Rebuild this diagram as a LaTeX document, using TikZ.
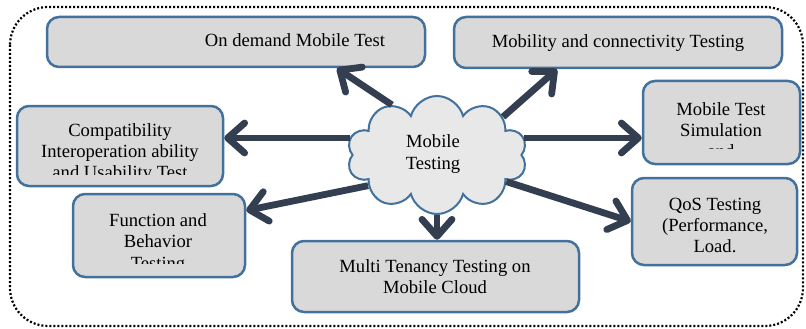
\documentclass[tikz,border=0pt]{standalone}
\usepackage{fontspec}
\setmainfont{Liberation Serif}
\usetikzlibrary{shapes,arrows.meta,positioning}
\definecolor{boxblue}{RGB}{65,113,156}
\definecolor{boxgray}{RGB}{217,217,217}
\definecolor{cloudgray}{RGB}{232,232,232}
\definecolor{arrownavy}{RGB}{51,63,80}

\begin{document}
\begin{tikzpicture}[x=1pt, y=-1pt,
  box/.style={draw=boxblue, fill=boxgray, line width=2.5pt, rounded corners=12pt, inner sep=0pt},
  txt/.style={align=center, inner sep=0pt, font=\rmfamily\fontsize{18.6}{21.3}\selectfont},
  arr/.style={draw=arrownavy, line width=6.8pt, -{Straight Barb[length=17pt, width=30pt, line cap=round, line join=round]}}]
\useasboundingbox (0,0) rectangle (806,329);

% Outer dotted frame
\draw[line width=2.2pt, dash pattern=on 2pt off 2pt, rounded corners=38pt] (10,7) rectangle (803,326);

% Top row
\node[box, minimum width=378pt, minimum height=50pt] (od) at (236,42) {};
\node[txt] (odtext) at (295,40) {On demand Mobile Test};
\node[box, minimum width=328pt, minimum height=51pt] (mob) at (618,42.5) {};
\node[txt] (mobtext) at (618,43.5) {Mobility and connectivity Testing};

% Left side
\node[box, minimum width=206pt, minimum height=80pt] (compat) at (120,146) {};
\begin{scope}
\clip (16,105) rectangle (224,174);
\node[txt] (compattext) at (120,153) {Compatibility\\Interoperation ability\\and Usability Test};
\end{scope}
\node[box, minimum width=172pt, minimum height=83pt] (func) at (159,235.5) {};
\begin{scope}
\clip (72,193) rectangle (246,263);
\node[txt] (functext) at (158,243.5) {Function and\\Behavior\\Testing};
\end{scope}

% Right side
\node[box, minimum width=157pt, minimum height=83pt] (sim) at (721.5,122.5) {};
\begin{scope}
\clip (642,80) rectangle (801,148.5);
\node[txt] (simtext) at (721,130) {Mobile Test\\Simulation\\and};
\end{scope}
\node[box, minimum width=165pt, minimum height=87pt] (qos) at (714.5,221.5) {};
\node[txt] (qostext) at (715,225.5) {QoS Testing\\(Performance,\\Load.};

% Bottom
\node[box, minimum width=287pt, minimum height=71pt] (multi) at (435.5,276.5) {};
\node[txt] (multitext) at (435,276.5) {Multi Tenancy Testing on\\Mobile Cloud};

% Central cloud
\node[cloud, cloud puffs=10, cloud ignores aspect, draw=boxblue, fill=cloudgray, line width=2pt,
  minimum width=180pt, minimum height=118pt, txt] (cloud) at (437,155) {};
\node[txt] (cloudtext) at (433,154) {Mobile\\Testing};

% Arrows
\draw[arr] (cloud.132) -- ([xshift=101pt]od.south);
\draw[arr] (cloud.30) -- ([xshift=-61pt]mob.south);
\draw[arr] (cloud.169) -- (cloud.169 -| compat.east);
\draw[arr] (cloud.11) -- (cloud.11 -| sim.west);
\draw[arr] (cloud.204) -- ([yshift=25pt]func.east);
\draw[arr] (cloud.south) -- (cloud.south |- multi.north);
\draw[arr] (cloud.-21) -- (qos.west);
\end{tikzpicture}
\end{document}
